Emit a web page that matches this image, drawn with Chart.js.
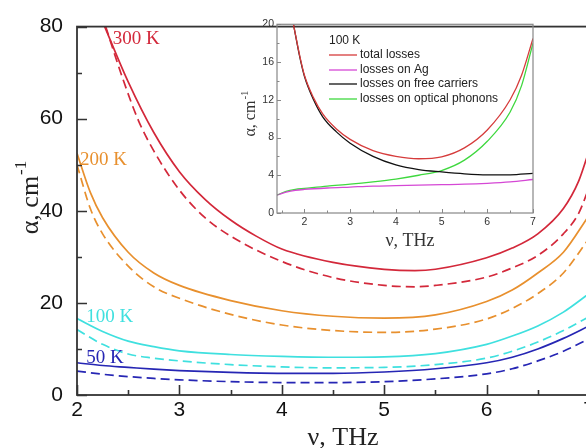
<!DOCTYPE html>
<html>
<head>
<meta charset="utf-8">
<script src="https://cdn.jsdelivr.net/npm/chart.js@4.4.1/dist/chart.umd.min.js"></script>
<style>
  html, body { margin: 0; padding: 0; background: #fff; overflow: hidden; width: 586px; height: 448px; }
  #wrap { position: relative; width: 600px; height: 448px; }
  #main { position: absolute; left: 0; top: 0; }
  #inset { position: absolute; left: 236px; top: 15px; }
</style>
</head>
<body>
<div id="wrap">
  <canvas id="main" width="600" height="448"></canvas>
  <canvas id="inset" width="314" height="240"></canvas>
</div>
<script>
// ---- main plot: absorption vs frequency, solid and dashed pairs per temperature ----
const mainXTicks = [2, 3, 4, 5, 6, 7];
const mainXMinor = [2.5, 3.5, 4.5, 5.5, 6.5];
const mainYTicks = [0, 20, 40, 60, 80];
const mainYMinor = [10, 30, 50, 70];

const nu300Solid = [2.27, 2.5, 2.75, 3.0, 3.25, 3.5, 3.75, 4.0, 4.5, 5.0, 5.3, 5.5, 6.0, 6.25, 6.5, 6.75, 6.9, 7.0];
const alpha300Solid = [80, 68, 57, 48.5, 42.5, 38, 34.5, 31.7, 28.8, 27.3, 27.0, 27.3, 29.8, 31.9, 35, 40.5, 46.5, 53];
const nu300Dash = [2.28, 2.45, 2.6, 2.75, 3.0, 3.25, 3.5, 4.0, 4.5, 5.0, 5.3, 5.5, 6.0, 6.25, 6.5, 6.75, 6.9, 7.0];
const alpha300Dash = [80, 68.5, 59.6, 53, 44.5, 38.5, 34.5, 29, 25.5, 23.8, 23.5, 23.8, 25.6, 27.6, 30.3, 35, 39.5, 45];

const nu200 = [2.0, 2.13, 2.25, 2.5, 2.75, 3.0, 3.5, 4.0, 4.5, 5.0, 5.5, 6.0, 6.25, 6.5, 6.75, 7.0];
const alpha200Solid = [52.5, 44, 38.5, 31, 26.5, 23.8, 20.5, 18.3, 17.1, 16.7, 17.4, 20.3, 22.8, 26.5, 31, 39];
const alpha200Dash = [50, 40.5, 35, 28, 23.5, 21, 17.5, 15.2, 14, 13.6, 14.3, 16.5, 18.8, 22, 26.5, 34];

const nuLow = [2.0, 2.25, 2.5, 2.75, 3.0, 3.5, 4.0, 4.5, 5.0, 5.5, 6.0, 6.25, 6.5, 6.75, 7.0];
const alpha100Solid = [16.6, 13.8, 11.7, 10.5, 9.6, 8.8, 8.4, 8.2, 8.3, 9.0, 11.0, 12.8, 15.0, 18, 22];
const alpha100Dash = [14.2, 11, 8.9, 8.0, 7.4, 6.6, 6.1, 5.9, 6.0, 6.6, 8.0, 9.5, 11.5, 14, 17];
const alpha50Solid = [7.0, 6.4, 6.0, 5.6, 5.3, 4.9, 4.7, 4.7, 5.0, 5.7, 7.0, 8.2, 10, 12.3, 15];
const alpha50Dash = [5.2, 4.5, 4.0, 3.6, 3.3, 2.9, 2.7, 2.7, 2.9, 3.5, 4.6, 5.7, 7.4, 9.5, 12.2];

const tempLabels = ['300 K', '200 K', '100 K', '50 K'];

// ---- inset: loss contributions at 100 K ----
const insetXTicks = [2, 3, 4, 5, 6, 7];
const insetXMinor = [1.5, 2.5, 3.5, 4.5, 5.5, 6.5];
const insetYTicks = [0, 4, 8, 12, 16, 20];
const insetYMinor = [2, 6, 10, 14, 18];

const nuTotal = [1.76, 1.9, 2.0, 2.2, 2.4, 2.7, 3.0, 3.5, 4.0, 4.5, 5.0, 5.5, 6.0, 6.5, 6.75, 7.0];
const lossTotal = [20, 16.6, 14.6, 12.2, 10.5, 8.9, 7.8, 6.6, 6.0, 5.75, 5.95, 6.9, 8.8, 12, 14.6, 18.5];
const nuAg = [1.4, 1.6, 1.8, 2.0, 2.5, 3.0, 3.5, 4.0, 4.5, 5.0, 5.5, 6.0, 6.5, 7.0];
const lossAg = [1.9, 2.2, 2.4, 2.5, 2.65, 2.75, 2.85, 2.9, 2.95, 3.0, 3.05, 3.15, 3.3, 3.55];
const nuFree = [1.76, 1.9, 2.0, 2.2, 2.4, 2.7, 3.0, 3.5, 4.0, 4.5, 5.0, 5.5, 6.0, 6.5, 7.0];
const lossFree = [20, 16.5, 14.5, 12, 10.2, 8.6, 7.4, 6.0, 5.1, 4.6, 4.35, 4.15, 4.05, 4.05, 4.2];
const nuPhonon = [1.4, 1.6, 1.8, 2.0, 2.5, 3.0, 3.5, 4.0, 4.5, 5.0, 5.5, 6.0, 6.5, 6.75, 7.0];
const lossPhonon = [1.9, 2.3, 2.5, 2.6, 2.85, 3.05, 3.3, 3.6, 4.0, 4.5, 5.6, 7.6, 10.7, 13.5, 18];

const insetTitle = '100 K';
const insetLabels = ['total losses', 'losses on Ag', 'losses on free carriers', 'losses on optical phonons'];

const RED = '#d3283a';
const ORANGE = '#e8902e';
const CYAN = '#3fe0df';
const BLUE = '#2626b4';
const SERIF = '"Liberation Serif", "Times New Roman", serif';
const SANS = '"Liberation Sans", Arial, sans-serif';

const pts = (xs, ys) => xs.map((x, i) => ({ x, y: ys[i] }));

function lineSet(label, data, color, dashed, width) {
  return {
    label,
    data,
    borderColor: color,
    backgroundColor: color,
    borderWidth: width,
    borderDash: dashed ? [9, 5] : [],
    pointRadius: 0,
    fill: false,
    cubicInterpolationMode: 'monotone',
  };
}

function drawText(ctx, t) {
  ctx.save();
  ctx.fillStyle = t.color;
  ctx.font = t.font;
  ctx.textBaseline = t.baseline || 'alphabetic';
  ctx.textAlign = 'left';
  ctx.translate(t.x, t.y);
  if (t.rotate) ctx.rotate(t.rotate);
  const w = ctx.measureText(t.text).width;
  let supW = 0;
  if (t.sup) {
    ctx.font = t.supFont;
    supW = ctx.measureText(t.sup).width;
    ctx.font = t.font;
  }
  const x0 = t.align === 'center' ? -(w + supW) / 2 : 0;
  ctx.fillText(t.text, x0, 0);
  if (t.sup) {
    ctx.font = t.supFont;
    ctx.fillText(t.sup, x0 + w + 1, -t.supRise);
  }
  ctx.restore();
}

// frame + inward tick marks, drawn from the scales
const frameTicks = {
  id: 'frameTicks',
  afterDatasetsDraw(chart, _args, o) {
    const { ctx, chartArea: a, scales: { x, y } } = chart;
    ctx.save();
    ctx.strokeStyle = o.color;
    ctx.lineWidth = o.width;
    ctx.strokeRect(a.left, a.top, a.right - a.left, a.bottom - a.top);
    ctx.lineWidth = o.tickWidth;
    ctx.beginPath();
    const xt = (vals, len) => vals.forEach(v => {
      const px = Math.round(x.getPixelForValue(v)) + 0.5;
      ctx.moveTo(px, a.bottom); ctx.lineTo(px, a.bottom - len);
    });
    const yt = (vals, len) => vals.forEach(v => {
      const py = Math.round(y.getPixelForValue(v)) + 0.5;
      ctx.moveTo(a.left, py); ctx.lineTo(a.left + len, py);
    });
    xt(o.xMajor, o.major); xt(o.xMinor, o.minor);
    yt(o.yMajor, o.major); yt(o.yMinor, o.minor);
    ctx.stroke();
    ctx.restore();
  },
};

const texts = {
  id: 'texts',
  afterDraw(chart, _args, o) {
    const { ctx, scales: { x, y } } = chart;
    (o.items || []).forEach(t => drawText(ctx, t));
    (o.anchored || []).forEach(t => drawText(ctx, { ...t, x: x.getPixelForValue(t.nu), y: y.getPixelForValue(t.alpha) }));
    if (o.legend) {
      const L = o.legend;
      drawText(ctx, { text: L.title, x: L.lineX0, y: L.titleY, font: L.font, color: '#222', baseline: 'middle' });
      chart.data.datasets.forEach((ds, i) => {
        const yy = L.rows[i];
        ctx.save();
        ctx.strokeStyle = ds.borderColor;
        ctx.lineWidth = 1.3;
        ctx.beginPath();
        ctx.moveTo(L.lineX0, yy); ctx.lineTo(L.lineX1, yy);
        ctx.stroke();
        ctx.restore();
        drawText(ctx, { text: ds.label, x: L.textX, y: yy, font: L.font, color: '#222', baseline: 'middle' });
      });
    }
  },
};

function baseScale(min, max, ticks, fit, font, pad, color) {
  return {
    type: 'linear',
    min, max,
    afterBuildTicks: s => { s.ticks = ticks.map(v => ({ value: v })); },
    afterFit: fit,
    grid: { display: false, drawTicks: false },
    border: { display: false },
    ticks: { font, color, padding: pad },
  };
}

const mainColors = [RED, ORANGE, CYAN, BLUE];
const mainData = [
  [pts(nu300Solid, alpha300Solid), pts(nu300Dash, alpha300Dash)],
  [pts(nu200, alpha200Solid), pts(nu200, alpha200Dash)],
  [pts(nuLow, alpha100Solid), pts(nuLow, alpha100Dash)],
  [pts(nuLow, alpha50Solid), pts(nuLow, alpha50Dash)],
];
const mainDatasets = [];
mainData.forEach((pair, i) => {
  mainDatasets.push(lineSet(tempLabels[i], pair[0], mainColors[i], false, 1.7));
  mainDatasets.push(lineSet(tempLabels[i] + ' (dashed)', pair[1], mainColors[i], true, 1.7));
});

new Chart(document.getElementById('main'), {
  type: 'line',
  data: { datasets: mainDatasets },
  options: {
    responsive: false,
    animation: false,
    layout: { padding: { left: 0, top: 18, right: 11, bottom: 0 } },
    plugins: {
      legend: { display: false },
      tooltip: { enabled: false },
      frameTicks: {
        color: '#333', width: 1.8, tickWidth: 1.6, major: 10, minor: 5,
        xMajor: mainXTicks, xMinor: mainXMinor, yMajor: mainYTicks, yMinor: mainYMinor,
      },
      texts: {
        items: [
          { text: 'α, cm', sup: '-1', x: 38, y: 198, rotate: -Math.PI / 2, align: 'center',
            font: '26px ' + SERIF, supFont: '17px ' + SERIF, supRise: 12, color: '#222' },
          { text: 'ν, THz', x: 343, y: 445, align: 'center', font: '26px ' + SERIF, color: '#222' },
        ],
        anchored: [
          { text: tempLabels[0], nu: 2.35, alpha: 77.4, font: '19px ' + SERIF, color: RED, baseline: 'middle' },
          { text: tempLabels[1], nu: 2.03, alpha: 51, font: '19px ' + SERIF, color: ORANGE, baseline: 'middle' },
          { text: tempLabels[2], nu: 2.09, alpha: 17, font: '19px ' + SERIF, color: CYAN, baseline: 'middle' },
          { text: tempLabels[3], nu: 2.09, alpha: 8.1, font: '19px ' + SERIF, color: BLUE, baseline: 'middle' },
        ],
      },
    },
    scales: {
      x: baseScale(2, 7, mainXTicks, s => { s.height = 53; }, { family: SANS, size: 21 }, 3, '#111'),
      y: baseScale(0, 80, mainYTicks, s => { s.width = 77; }, { family: SANS, size: 21 }, 14, '#111'),
    },
  },
  plugins: [frameTicks, texts],
});

new Chart(document.getElementById('inset'), {
  type: 'line',
  data: {
    datasets: [
      lineSet(insetLabels[0], pts(nuTotal, lossTotal), '#d63c3c', false, 1.3),
      lineSet(insetLabels[1], pts(nuAg, lossAg), '#d548d5', false, 1.3),
      lineSet(insetLabels[2], pts(nuFree, lossFree), '#111111', false, 1.3),
      lineSet(insetLabels[3], pts(nuPhonon, lossPhonon), '#3fd83f', false, 1.3),
    ],
  },
  options: {
    responsive: false,
    animation: false,
    layout: { padding: { left: 0, top: 9, right: 17, bottom: 0 } },
    plugins: {
      legend: { display: false },
      tooltip: { enabled: false },
      frameTicks: {
        color: '#888', width: 1.2, tickWidth: 1, major: 4, minor: 2.5,
        xMajor: insetXTicks, xMinor: insetXMinor, yMajor: insetYTicks, yMinor: insetYMinor,
      },
      texts: {
        items: [
          { text: 'α, cm', sup: '-1', x: 19, y: 99, rotate: -Math.PI / 2, align: 'center',
            font: '16px ' + SERIF, supFont: '11px ' + SERIF, supRise: 7, color: '#333' },
          { text: 'ν, THz', x: 174, y: 231, align: 'center', font: '18px ' + SERIF, color: '#333' },
        ],
        legend: {
          title: insetTitle, titleY: 26, rows: [40, 55, 69, 84],
          lineX0: 93, lineX1: 121, textX: 124, font: '12px ' + SANS,
        },
      },
    },
    scales: {
      x: baseScale(1.4, 7, insetXTicks, s => { s.height = 42; }, { family: SANS, size: 10.5 }, 3, '#333'),
      y: baseScale(0, 20, insetYTicks, s => { s.width = 41; }, { family: SANS, size: 10.5 }, 3, '#333'),
    },
  },
  plugins: [frameTicks, texts],
});
</script>
</body>
</html>
